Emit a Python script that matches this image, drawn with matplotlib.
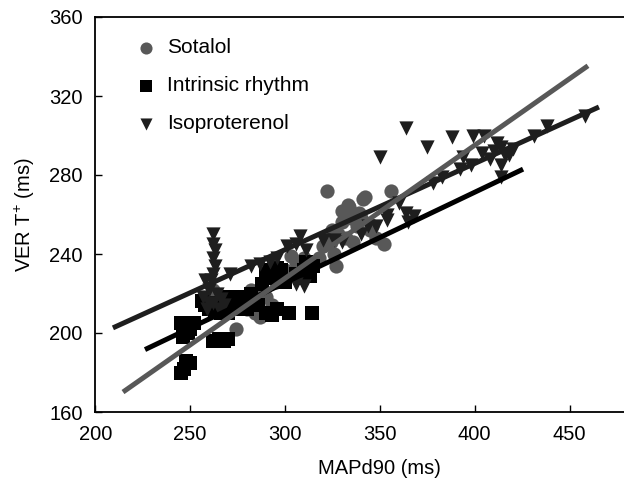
import matplotlib
matplotlib.use('Agg')
import matplotlib.pyplot as plt
import numpy as np

plt.rcParams['font.family'] = ['Liberation Sans', 'DejaVu Sans']
plt.rcParams['mathtext.fontset'] = 'custom'
plt.rcParams['mathtext.rm'] = 'Liberation Sans'

# Sotalol (grey circles)
sot_x = [322, 342, 356, 352, 334, 339, 333, 341, 325, 330, 335, 338, 328, 324, 320, 332,
         345, 348, 336, 326, 318, 313, 306, 303, 310, 316, 300, 295, 285, 282, 287, 290,
         293, 288, 280, 284, 278, 274, 265, 268, 262, 298, 327, 340, 346, 330]
sot_y = [272, 269, 272, 245, 264, 261, 265, 268, 252, 256, 258, 254, 250, 246, 244, 248,
         252, 248, 246, 240, 238, 234, 236, 239, 238, 236, 232, 226, 215, 222, 208, 218,
         214, 222, 212, 210, 218, 202, 214, 218, 222, 230, 234, 258, 254, 262]

# Intrinsic rhythm (black squares)
int_x = [245, 247, 250, 246, 249, 252, 250, 245, 248, 262, 265, 268, 270, 267, 264, 268,
         272, 275, 278, 280, 270, 274, 276, 283, 286, 290, 293, 296, 302, 314, 290, 292,
         294, 296, 300, 306, 308, 310, 313, 315, 258, 260, 256, 263, 266, 271, 277, 282,
         288, 298, 311]
int_y = [180, 182, 185, 198, 200, 205, 202, 205, 186, 196, 197, 196, 197, 213, 215, 218,
         216, 214, 217, 212, 210, 212, 218, 216, 214, 210, 209, 212, 210, 210, 230, 232,
         228, 233, 226, 230, 228, 232, 229, 234, 214, 212, 216, 211, 210, 218, 215, 220,
         225, 232, 236]

# Isoproterenol (dark triangles)
iso_x = [262, 262, 263, 262, 263, 262, 261, 258, 260, 257, 262, 264, 266, 268, 265, 260,
         259, 271, 282, 287, 292, 296, 301, 306, 308, 311, 306, 310, 320, 330, 344, 348,
         354, 364, 368, 365, 350, 364, 375, 388, 399, 405, 404, 394, 398, 414, 414, 414,
         420, 416, 410, 408, 412, 418, 431, 438, 458, 378, 383, 360, 392, 354, 340, 326]
iso_y = [250, 245, 242, 238, 234, 230, 227, 227, 222, 218, 215, 220, 217, 214, 212, 215,
         212, 230, 234, 235, 236, 238, 244, 245, 249, 242, 225, 224, 247, 246, 254, 254,
         257, 261, 259, 256, 289, 304, 294, 299, 300, 300, 291, 289, 285, 294, 285, 279,
         293, 290, 292, 288, 296, 290, 300, 305, 310, 276, 279, 266, 283, 260, 250, 247]

# regression lines: (x start, x end), intercept at x start, slope
sot_fit = ([214.6, 459.7], 170.1, 0.674)
int_fit = ([226.2, 425.5], 191.6, 0.4584)
iso_fit = ([209.3, 465.5], 202.6, 0.4365)

fig = plt.figure(figsize=(6.24, 4.82), dpi=100)
ax = fig.add_axes([95.3 / 624, 70 / 482, 569.1 / 624, 395 / 482])

ax.scatter(sot_x, sot_y, s=105, marker='o', color='#585858', linewidths=0, label='Sotalol', zorder=2)
ax.scatter(int_x, int_y, s=95, marker='s', color='black', linewidths=0, label='Intrinsic rhythm', zorder=2)
ax.scatter(iso_x, iso_y, s=105, marker='v', color='#1e1e1e', linewidths=0, label='Isoproterenol', zorder=2)

for fit, col in [(int_fit, 'black'), (iso_fit, '#1e1e1e'), (sot_fit, '#585858')]:
    xs, b, m = fit
    xs = np.array(xs)
    ax.plot(xs, b + m * (xs - xs[0]), color=col, lw=3.6, solid_capstyle='butt', zorder=3)

ax.set_xlim(200, 500)
ax.set_ylim(160, 360)
ax.set_xticks([200, 250, 300, 350, 400, 450])
ax.set_yticks([160, 200, 240, 280, 320, 360])
ax.tick_params(direction='in', length=5, width=1, labelsize=14.5, pad=9)
ax.spines['right'].set_visible(False)
for s in ['left', 'bottom', 'top']:
    ax.spines[s].set_linewidth(1.3)

ax.set_xlabel('MAPd90 (ms)', fontsize=14.5, labelpad=11)
ax.set_ylabel(r'VER T$^{\mathregular{+}}$ (ms)', fontsize=14.5, labelpad=9)

ax.legend(loc='upper left', bbox_to_anchor=(136 / 624, 1 - 38 / 482),
          bbox_transform=fig.transFigure, frameon=False, fontsize=15,
          handlelength=1.0, handletextpad=0.5, labelspacing=0.92,
          borderpad=0, borderaxespad=0, markerscale=0.85)

fig.savefig('out.png', dpi=100)
